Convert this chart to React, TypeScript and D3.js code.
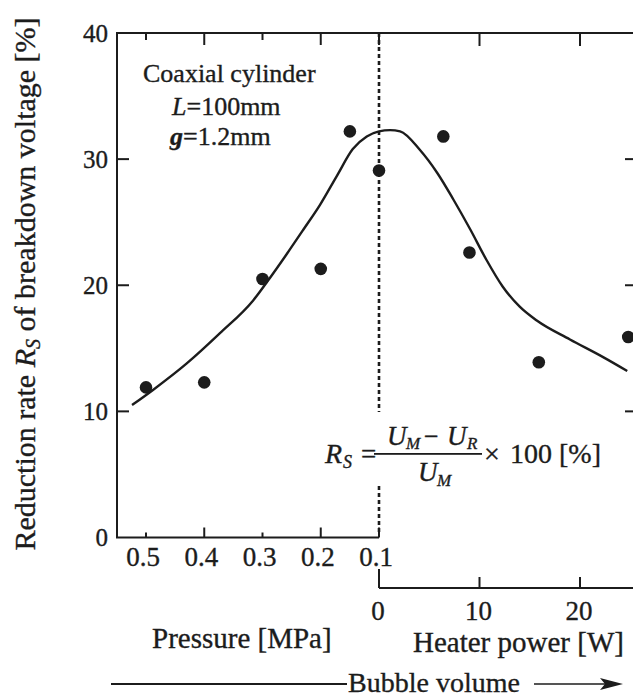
import React from 'react';
import * as d3 from 'd3';

// ---- data ----
const yTicks = [0, 10, 20, 30, 40];
const yInnerTicks = [10, 20, 30];
const pressureTicks = [0.5, 0.4, 0.3, 0.2, 0.1];
const pressureTickLabels = ['0.5', '0.4', '0.3', '0.2', '0.1'];
const pressureMajorTicks = [0.4, 0.2, 0.1];
const heaterTicks = [0, 10, 20];
const heaterTickLabels = ['0', '10', '20'];

const dotPressure = [0.5, 0.4, 0.3, 0.2, 0.15, 0.1];
const dotPressureValue = [11.9, 12.3, 20.5, 21.3, 32.2, 29.1];
const dotHeater = [6.4, 9.0, 15.9, 24.8];
const dotHeaterValue = [31.8, 22.6, 13.9, 15.9];

const curvePressure = [0.524, 0.488, 0.43, 0.373, 0.316, 0.287, 0.258, 0.23, 0.201, 0.172, 0.145, 0.121, 0.1];
const curvePressureValue = [10.5, 11.7, 13.8, 16.2, 18.8, 20.6, 22.5, 24.4, 26.4, 28.7, 30.8, 31.8, 32.2];
const curveHeater = [1.1, 2.1, 4.1, 5.8, 7.4, 9.1, 10.7, 12.3, 14.0, 15.7, 19.0, 22.3, 24.7];
const curveHeaterValue = [32.3, 32.2, 30.7, 28.9, 26.8, 24.4, 22.0, 19.9, 18.3, 17.2, 15.7, 14.3, 13.2];

// ---- layout ----
const W = 633;
const H = 698;
const LEFT = 117;
const TOP = 33;
const BOTTOM_P = 537.5;
const BOTTOM_H = 588;
const INK = '#1c1c1c';
const FONT = '"Liberation Serif", "Times New Roman", serif';
const TS = 0.35; // text stroke to mimic the heavier printed type

const y = d3.scaleLinear().domain([0, 40]).range([BOTTOM_P, TOP]);
const xp = d3.scaleLinear().domain([0.1, 0.5]).range([379, 146]);
const xh = d3.scaleLinear().domain([0, 20]).range([379, 580]);

export default function App() {
  const x0 = xp(0.1);
  const curvePts: [number, number][] = [
    ...curvePressure.map((p, i) => [xp(p), y(curvePressureValue[i])] as [number, number]),
    ...curveHeater.map((h, i) => [xh(h), y(curveHeaterValue[i])] as [number, number]),
  ];
  const line = d3.line().curve(d3.curveMonotoneX);
  const d = line(curvePts) || '';

  return (
    <svg width={W} height={H} style={{ position: 'absolute', left: 0, top: 0, background: '#fff' }}
      fontFamily={FONT} fill={INK}>
      <rect x={0} y={0} width={W} height={H} fill="#fff" />
      {/* frame */}
      <line x1={LEFT} y1={TOP} x2={LEFT} y2={BOTTOM_P} stroke={INK} strokeWidth={2} />
      <line x1={LEFT - 1} y1={TOP} x2={W} y2={TOP} stroke={INK} strokeWidth={2} />
      <line x1={LEFT - 1} y1={BOTTOM_P} x2={x0} y2={BOTTOM_P} stroke={INK} strokeWidth={2} />
      <line x1={x0} y1={BOTTOM_H} x2={W} y2={BOTTOM_H} stroke={INK} strokeWidth={2} />
      <line x1={x0} y1={BOTTOM_H - 19} x2={x0} y2={BOTTOM_H} stroke={INK} strokeWidth={2} />

      {/* left / right ticks */}
      {yInnerTicks.map(t => (
        <g key={'yl' + t}>
          <line x1={LEFT} x2={LEFT + 12} y1={y(t)} y2={y(t)} stroke={INK} strokeWidth={2} />
          <line x1={W - 8} x2={W} y1={y(t)} y2={y(t)} stroke={INK} strokeWidth={2} />
        </g>
      ))}
      <g stroke={INK} strokeWidth={TS}>
        {yTicks.map(t => (
          <text key={'ytl' + t} x={108} y={y(t) + 8.5} fontSize={25} textAnchor="end">{t}</text>
        ))}
      </g>

      {/* pressure ticks top and bottom */}
      {pressureTicks.map((p, i) => {
        const major = pressureMajorTicks.includes(p);
        const len = major ? 12 : 7;
        return (
          <g key={'p' + p}>
            <line x1={xp(p)} x2={xp(p)} y1={TOP} y2={TOP + len} stroke={INK} strokeWidth={2} />
            <line x1={xp(p)} x2={xp(p)} y1={BOTTOM_P} y2={BOTTOM_P - (major ? 10 : 5)} stroke={INK} strokeWidth={2} />
            <text x={xp(p) - 3} y={566} fontSize={27} textAnchor="middle" stroke={INK} strokeWidth={TS}>{pressureTickLabels[i]}</text>
          </g>
        );
      })}

      {/* heater ticks */}
      {heaterTicks.map((h, i) => (
        <g key={'h' + h}>
          {h > 0 && <line x1={xh(h)} x2={xh(h)} y1={TOP} y2={TOP + 13} stroke={INK} strokeWidth={2} />}
          {h > 0 && <line x1={xh(h)} x2={xh(h)} y1={BOTTOM_H} y2={BOTTOM_H - 11} stroke={INK} strokeWidth={2} />}
          <text x={xh(h) - 1} y={620} fontSize={27} textAnchor="middle" stroke={INK} strokeWidth={TS}>{heaterTickLabels[i]}</text>
        </g>
      ))}

      {/* dotted divider */}
      <line x1={x0} x2={x0} y1={TOP} y2={412} stroke={INK} strokeWidth={2.6} strokeDasharray="4 3" />
      <line x1={x0} x2={x0} y1={486} y2={533} stroke={INK} strokeWidth={2.6} strokeDasharray="4 3" />

      {/* curve */}
      <path d={d} fill="none" stroke={INK} strokeWidth={2.4} />

      {/* dots */}
      {dotPressure.map((p, i) => (
        <circle key={'dp' + i} cx={xp(p)} cy={y(dotPressureValue[i])} r={6.3} fill={INK} />
      ))}
      {dotHeater.map((h, i) => (
        <circle key={'dh' + i} cx={xh(h)} cy={y(dotHeaterValue[i])} r={6.3} fill={INK} />
      ))}

      <g stroke={INK} strokeWidth={TS}>
        {/* annotation */}
        <text x={143} y={82} fontSize={26}>Coaxial cylinder</text>
        <text x={172} y={115} fontSize={26}><tspan fontStyle="italic">L</tspan>=100mm</text>
        <text x={170} y={145} fontSize={26}><tspan fontStyle="italic" fontWeight="bold">g</tspan>=1.2mm</text>

        {/* formula */}
        <text x={325} y={463} fontSize={28} fontStyle="italic">R</text>
        <text x={343} y={468} fontSize={18} fontStyle="italic">S</text>
        <text x={361} y={463} fontSize={27}>=</text>
        <text x={387} y={445} fontSize={27} fontStyle="italic">U</text>
        <text x={406} y={449} fontSize={17} fontStyle="italic">M</text>
        <text x={424} y={445} fontSize={26}>−</text>
        <text x={447} y={445} fontSize={27} fontStyle="italic">U</text>
        <text x={467} y={449} fontSize={17} fontStyle="italic">R</text>
        <text x={418} y={481} fontSize={27} fontStyle="italic">U</text>
        <text x={437} y={486} fontSize={17} fontStyle="italic">M</text>
        <text x={484} y={463} fontSize={28}>×</text>
        <text x={510} y={463} fontSize={28}>100 [%]</text>

        {/* y title */}
        <text transform="translate(35,284) rotate(-90)" fontSize={30} textAnchor="middle">
          Reduction rate <tspan fontStyle="italic">R</tspan><tspan fontStyle="italic" fontSize={20} dy={5}>S</tspan><tspan dy={-5}> of breakdown voltage [%]</tspan>
        </text>

        {/* x titles */}
        <text x={152} y={648} fontSize={29}>Pressure [MPa]</text>
        <text x={413} y={652} fontSize={29}>Heater power [W]</text>

        <text x={348} y={692} fontSize={28}>Bubble volume</text>
      </g>
      {/* fraction bar */}
      <rect x={374} y={453} width={108} height={1.8} fill={INK} />

      {/* bubble volume arrow */}
      <line x1={111} x2={347} y1={684} y2={684} stroke={INK} strokeWidth={2} />
      <line x1={534} x2={612} y1={684} y2={684} stroke={INK} strokeWidth={1.3} />
      <path d="M 600 678 L 623 684 L 600 690 L 605 684 Z" fill={INK} />
    </svg>
  );
}
